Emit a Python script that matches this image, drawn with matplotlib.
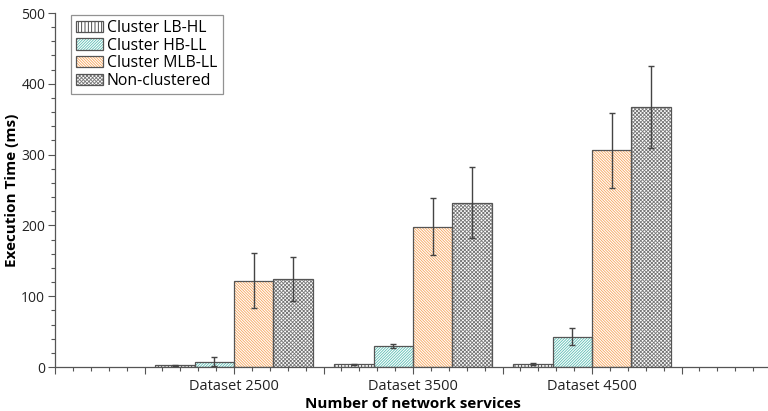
import matplotlib
matplotlib.use("Agg")
import matplotlib.pyplot as plt
from matplotlib.ticker import MultipleLocator
from matplotlib.patches import Patch
from matplotlib.legend_handler import HandlerTuple
import numpy as np

plt.rcParams['font.family'] = ['Open Sans', 'DejaVu Sans']
plt.rcParams['hatch.linewidth'] = 0.6

datasets = ["Dataset 2500", "Dataset 3500", "Dataset 4500"]
series = ["Cluster LB-HL", "Cluster HB-LL", "Cluster MLB-LL", "Non-clustered"]
means = {
    "Cluster LB-HL": [2.3, 3.8, 4.2],
    "Cluster HB-LL": [7.5, 29.7, 42.8],
    "Cluster MLB-LL": [122, 198, 306],
    "Non-clustered": [124, 232, 367],
}
errors = {
    "Cluster LB-HL": [1.0, 1.0, 1.5],
    "Cluster HB-LL": [6, 3, 12],
    "Cluster MLB-LL": [39, 40, 53],
    "Non-clustered": [31, 50, 58],
}
hatches = ["|||||", "/" * 12, "\\" * 12, "x" * 9]
hatch_colors = ["#333333", "#5bbdb3", "#f7a55c", "#777777"]
edge = "#555555"

fig = plt.figure(figsize=(7.68, 4.11), dpi=100)
ax = fig.add_axes([55 / 768, 44 / 411, 716 / 768, 354 / 411])

x = np.arange(1, len(datasets) + 1)
width = 0.22
offsets = (np.arange(len(series)) - 1.5) * width

handles = []
for i, name in enumerate(series):
    pos = x + offsets[i]
    # hatch layer, then outline on top
    ax.bar(pos, means[name], width, color="white", edgecolor=hatch_colors[i],
           hatch=hatches[i], linewidth=0, zorder=2)
    ax.bar(pos, means[name], width, fill=False, edgecolor=edge,
           linewidth=0.9, zorder=3)
    ax.errorbar(pos, means[name], yerr=errors[name], fmt="none",
                ecolor="#444444", elinewidth=1, capsize=2.5, capthick=1, zorder=4)
    handles.append((Patch(facecolor="white", edgecolor=hatch_colors[i],
                          hatch=hatches[i], linewidth=0),
                    Patch(fill=False, edgecolor=edge, linewidth=0.9)))

leg = ax.legend(handles=handles, labels=series, loc="upper left",
                bbox_to_anchor=(14 / 716, 1.0), frameon=True, fancybox=False,
                fontsize=11.3, handlelength=1.7, handleheight=0.75,
                handletextpad=0.25, borderpad=0.35, labelspacing=0.1,
                borderaxespad=0.1,
                handler_map={tuple: HandlerTuple(ndivide=1, pad=0)})
leg.get_frame().set_edgecolor("#777777")
leg.get_frame().set_linewidth(0.9)

ax.set_xlim(0, 4)
ax.set_ylim(0, 500)
ax.set_xticks([0, 0.5, 1, 1.5, 2, 2.5, 3, 3.5, 4])
ax.set_xticklabels(["", "", datasets[0], "", datasets[1], "", datasets[2], "", ""])
ax.xaxis.set_minor_locator(MultipleLocator(0.1))
ax.yaxis.set_major_locator(MultipleLocator(100))
ax.yaxis.set_minor_locator(MultipleLocator(20))

ax.tick_params(axis="both", which="major", direction="out", length=5,
               width=0.8, color=edge, labelsize=10.5, labelcolor="#222222")
ax.tick_params(axis="y", which="major", labelsize=10, pad=2)
ax.tick_params(axis="both", which="minor", direction="out", length=3,
               width=0.8, color=edge)

for side in ["top", "right"]:
    ax.spines[side].set_visible(False)
for side in ["left", "bottom"]:
    ax.spines[side].set_color(edge)
    ax.spines[side].set_linewidth(0.9)

ax.set_xlabel("Number of network services", fontsize=11, fontweight="bold", labelpad=2)
ax.set_ylabel("Execution Time (ms)", fontsize=11, fontweight="bold")
ax.yaxis.set_label_coords(-36 / 716, 0.5)

fig.savefig("out.png", dpi=100)
